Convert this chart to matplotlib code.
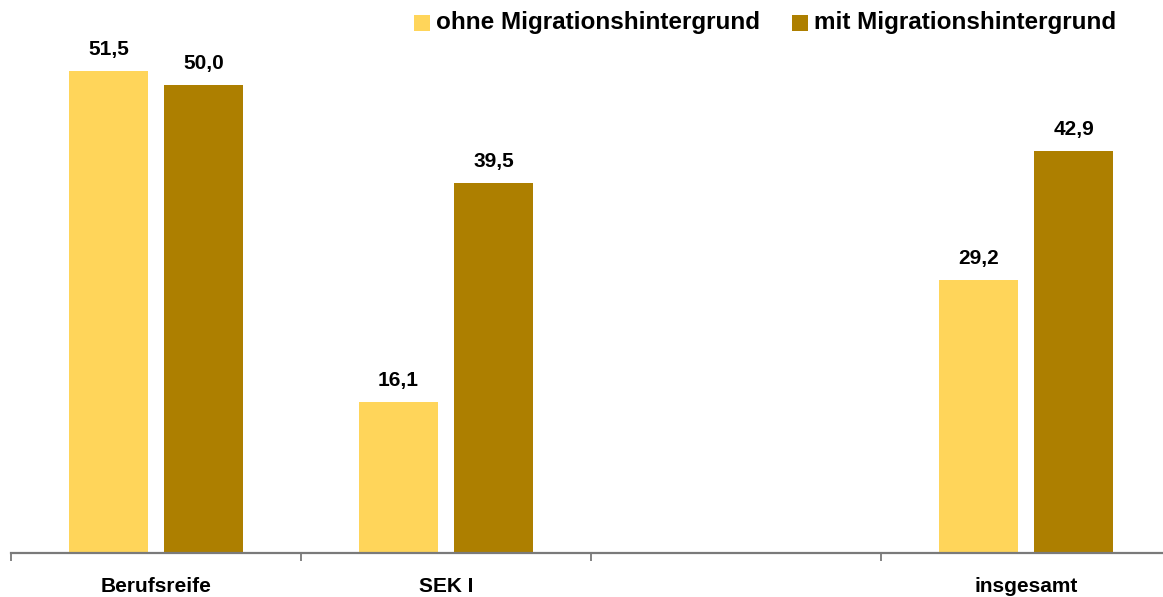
import matplotlib
matplotlib.use("Agg")
import matplotlib.pyplot as plt
from matplotlib.patches import Rectangle
import numpy as np

plt.rcParams['font.family'] = ['Liberation Sans', 'DejaVu Sans']

categories = ["Berufsreife", "SEK I", "", "insgesamt"]
series_names = ["ohne Migrationshintergrund", "mit Migrationshintergrund"]
ohne = [51.5, 16.1, None, 29.2]
mit = [50.0, 39.5, None, 42.9]
colors = ["#FFD55A", "#AD7F00"]

W, H, DPI = 1163, 597, 100
fig = plt.figure(figsize=(W / DPI, H / DPI), dpi=DPI)

# axes span four equal slots, the last one running past the right edge
left_px, right_px, base_px = 11, 1171, 553
px_per_unit = 9.36
ax = fig.add_axes([left_px / W, (H - base_px) / H, (right_px - left_px) / W, base_px / H])
ax.set_xlim(0, len(categories))
ax.set_ylim(0, base_px / px_per_unit)

bar_w = 79 / 290
offset = 47.5 / 290
centers = np.arange(len(categories)) + 0.5

for vals, sign, col in [(ohne, -1, colors[0]), (mit, 1, colors[1])]:
    for c, v in zip(centers, vals):
        if v is None:
            continue
        ax.bar(c + sign * offset, v, width=bar_w, color=col, edgecolor="none", zorder=2)
        ax.annotate(f"{v:.1f}".replace(".", ","), (c + sign * offset, v),
                    xytext=(0, 16), textcoords="offset pixels",
                    ha="center", va="baseline", fontsize=15, fontweight="bold", color="black")

for s in ["top", "left", "right"]:
    ax.spines[s].set_visible(False)
ax.spines["bottom"].set_color("#7a7a7a")
ax.spines["bottom"].set_linewidth(1.6)
ax.spines["bottom"].set_clip_on(False)
ax.set_yticks([])
ax.set_xticks(np.arange(len(categories) + 1))
ax.set_xticklabels([])
ax.tick_params(axis="x", which="major", direction="out", length=6, width=1.3, color="#7a7a7a")
ax.set_xticks(centers, minor=True)
ax.set_xticklabels(categories, minor=True, fontsize=15, fontweight="bold", color="black")
ax.tick_params(axis="x", which="minor", length=0, pad=17)

# legend drawn in figure pixel coordinates
def px(x, y):
    return x / W, 1 - y / H

for (sx, tx), name, col in zip([(414, 436), (792, 814)], series_names, colors):
    x0, y0 = px(sx, 31)
    fig.patches.append(Rectangle((x0, y0), 16 / W, 16 / H, transform=fig.transFigure,
                                 facecolor=col, edgecolor="none"))
    fig.text(*px(tx, 23), name, ha="left", va="center", fontsize=17.5, fontweight="bold",
             color="black")

fig.savefig("out.png", dpi=DPI)
